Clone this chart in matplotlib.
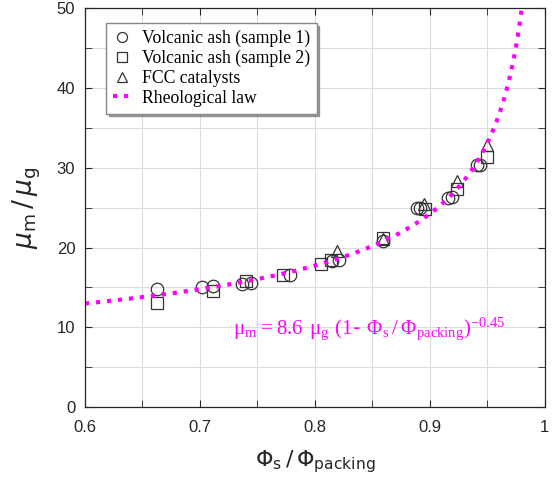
import numpy as np
import matplotlib
matplotlib.use("Agg")
import matplotlib.pyplot as plt
from matplotlib.ticker import MultipleLocator

# Volcanic ash (sample 1)
ash1_x = [0.663, 0.702, 0.711, 0.737, 0.744, 0.778, 0.815, 0.821, 0.859,
          0.889, 0.891, 0.916, 0.919, 0.941, 0.944]
ash1_y = [14.8, 15.0, 15.2, 15.4, 15.5, 16.6, 18.3, 18.4, 20.8,
          24.9, 24.9, 26.2, 26.3, 30.3, 30.4]

# Volcanic ash (sample 2)
ash2_x = [0.663, 0.711, 0.740, 0.772, 0.805, 0.814, 0.859, 0.896, 0.924, 0.950]
ash2_y = [13.1, 14.6, 15.8, 16.6, 17.9, 18.4, 21.2, 24.8, 27.4, 31.3]

# FCC catalysts
fcc_x = [0.819, 0.859, 0.895, 0.924, 0.950]
fcc_y = [19.6, 21.1, 25.4, 28.4, 32.8]

# rheological law written on the chart
law_coef = 8.6
law_exp = -0.45

phi = np.linspace(0.6, 0.985, 400)
mu = law_coef * (1 - phi) ** law_exp

fig = plt.figure(figsize=(5.52, 4.83), dpi=100)
ax = fig.add_axes([0.154, 0.157, 0.833, 0.826])

mk = dict(ls='none', mfc='none', mec='#333333', mew=0.9, ms=9)
ax.plot(ash1_x, ash1_y, marker='o', label='Volcanic ash (sample 1)', **mk)
ax.plot(ash2_x, ash2_y, marker='s', label='Volcanic ash (sample 2)', **mk)
ax.plot(fcc_x, fcc_y, marker='^', label='FCC catalysts', **mk)
ax.plot(phi, mu, ls=':', color='#ff00ff', lw=3, label='Rheological law')

ax.set_xlim(0.6, 1)
ax.set_ylim(0, 50)
ax.xaxis.set_minor_locator(MultipleLocator(0.05))
ax.yaxis.set_major_locator(MultipleLocator(10))
ax.yaxis.set_minor_locator(MultipleLocator(5))
ax.set_xticks([0.6, 0.7, 0.8, 0.9, 1.0])
ax.set_xticklabels(['0.6', '0.7', '0.8', '0.9', '1'])
ax.grid(True, which='both', color='#dcdcdc', lw=0.8)
ax.set_axisbelow(True)
ax.tick_params(which='both', direction='in', top=True, right=True,
               labelsize=12, colors='#262626', length=5)
ax.tick_params(axis='x', pad=9)
ax.tick_params(axis='y', pad=7)
for lab in ax.get_xticklabels() + ax.get_yticklabels():
    lab.set_family('Liberation Sans')
for s in ax.spines.values():
    s.set_color('#262626')
    s.set_linewidth(0.9)

ax.set_xlabel(r'$\mathrm{\Phi_s\,/\,\Phi_{packing}}$', fontsize=16,
              color='#262626', labelpad=10)
ax.set_ylabel(r'$\mu_\mathrm{m}\,/\,\mu_\mathrm{g}$', fontsize=19,
              color='#262626', labelpad=10)

ax.text(0.729, 9.8,
        r'$\mathregular{\mu_m = 8.6\ \mu_g\ (1\text{-}\ \Phi_s\,/\,\Phi_{packing})^{-0.45}}$',
        color='#ff00ff', fontsize=15, family='Liberation Serif', va='center')

leg = ax.legend(loc='upper left', bbox_to_anchor=(0.027, 0.985), fancybox=False,
                shadow=True, framealpha=1, edgecolor='#888888',
                prop={'family': 'Liberation Serif', 'size': 12.7},
                handlelength=1.0, handletextpad=0.6, borderpad=0.4,
                labelspacing=0.15, markerscale=0.8)

fig.savefig('out.png', dpi=100)
